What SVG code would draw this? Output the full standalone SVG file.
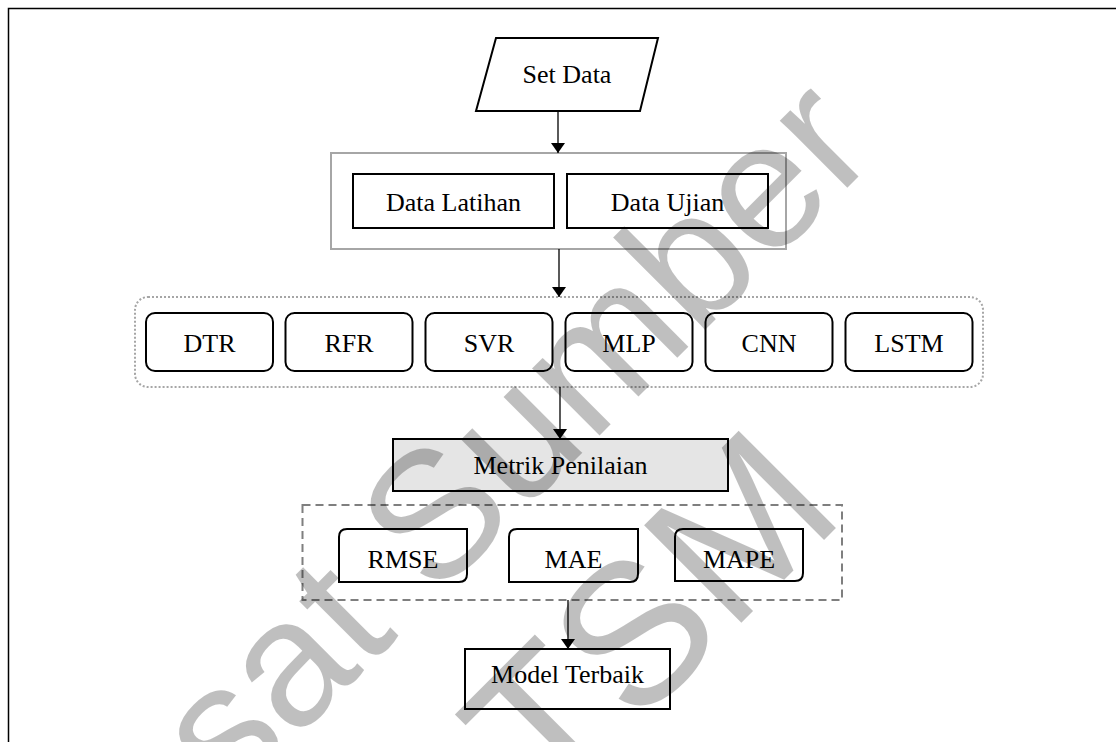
<svg xmlns="http://www.w3.org/2000/svg" width="1116" height="742" viewBox="0 0 1116 742">
<defs>
<style>
.lbl{font-family:"Liberation Serif","Times New Roman",serif;font-size:26px;fill:#000;text-anchor:middle}
.box{fill:#fff;stroke:#000;stroke-width:2}
.conn{stroke:#000;stroke-width:1.3;fill:none}
.wm{font-family:"Liberation Sans",Arial,sans-serif;fill:#000;fill-opacity:0.25}
</style>
<marker id="ah" viewBox="0 0 10 14" refX="10" refY="7" markerWidth="10" markerHeight="14" markerUnits="userSpaceOnUse" orient="auto">
<path d="M0,0 L10,7 L0,14 Z" fill="#000"/>
</marker>
</defs>
<rect width="1116" height="742" fill="#fff"/>
<path d="M8.5 742 V8.5 H1116" fill="none" stroke="#000" stroke-width="1.5"/>

<g id="set-data">
<polygon class="box" points="496,38 658,38 640,111 476,111"/>
<text class="lbl" x="567" y="83">Set Data</text>
</g>

<g id="split">
<rect x="331" y="153" width="455" height="96" fill="none" stroke="#a6a6a6" stroke-width="2"/>
<g id="data-latihan">
<rect class="box" x="353" y="174" width="201" height="54"/>
<text class="lbl" x="453.5" y="211">Data Latihan</text>
</g>
<g id="data-ujian">
<rect class="box" x="567" y="174" width="201" height="54"/>
<text class="lbl" x="667.5" y="211">Data Ujian</text>
</g>
</g>

<g id="models">
<rect x="135" y="297" width="848" height="90" rx="13" fill="none" stroke="#a6a6a6" stroke-width="2" stroke-dasharray="2,2"/>
<g id="dtr"><rect class="box" x="146" y="313" width="127" height="58" rx="9"/><text class="lbl" x="209.5" y="352">DTR</text></g>
<g id="rfr"><rect class="box" x="285.5" y="313" width="127" height="58" rx="9"/><text class="lbl" x="349" y="352">RFR</text></g>
<g id="svr"><rect class="box" x="425.5" y="313" width="127" height="58" rx="9"/><text class="lbl" x="489" y="352">SVR</text></g>
<g id="mlp"><rect class="box" x="565.5" y="313" width="127" height="58" rx="9"/><text class="lbl" x="629" y="352">MLP</text></g>
<g id="cnn"><rect class="box" x="705.5" y="313" width="127" height="58" rx="9"/><text class="lbl" x="769" y="352">CNN</text></g>
<g id="lstm"><rect class="box" x="845.5" y="313" width="127" height="58" rx="9"/><text class="lbl" x="909" y="352">LSTM</text></g>
</g>

<g id="metrik">
<rect x="393" y="439" width="335" height="52" fill="#e5e5e5" stroke="#000" stroke-width="2"/>
<text class="lbl" x="560.5" y="474">Metrik Penilaian</text>
</g>

<g id="metrics">
<rect x="302.5" y="505" width="539.5" height="95" fill="none" stroke="#7f7f7f" stroke-width="2" stroke-dasharray="8,5"/>
<g id="rmse"><path class="box" d="M347,529 H467 V574 Q467,582 459,582 H339 V537 Q339,529 347,529 Z"/><text class="lbl" x="403" y="568">RMSE</text></g>
<g id="mae"><path class="box" d="M517,529 H638 V574 Q638,582 630,582 H509 V537 Q509,529 517,529 Z"/><text class="lbl" x="573.5" y="568">MAE</text></g>
<g id="mape"><path class="box" d="M683,529 H803 V573 Q803,581 795,581 H675 V537 Q675,529 683,529 Z"/><text class="lbl" x="739" y="568">MAPE</text></g>
</g>

<g id="model-terbaik">
<rect class="box" x="465" y="649" width="205" height="60"/>
<text class="lbl" x="567.5" y="683">Model Terbaik</text>
</g>

<g id="connectors">
<line class="conn" x1="558" y1="111" x2="558" y2="153" marker-end="url(#ah)"/>
<line class="conn" x1="559" y1="249" x2="559" y2="297" marker-end="url(#ah)"/>
<line class="conn" x1="560" y1="387" x2="560" y2="439" marker-end="url(#ah)"/>
<line class="conn" x1="568" y1="600" x2="568" y2="649" marker-end="url(#ah)"/>
</g>

<g id="watermark">
<text class="wm" font-size="180" transform="translate(230,805) rotate(-45)">sat Sumber</text>
<text class="wm" font-size="200" transform="translate(549,815) rotate(-45)">TSM</text>
</g>
</svg>
